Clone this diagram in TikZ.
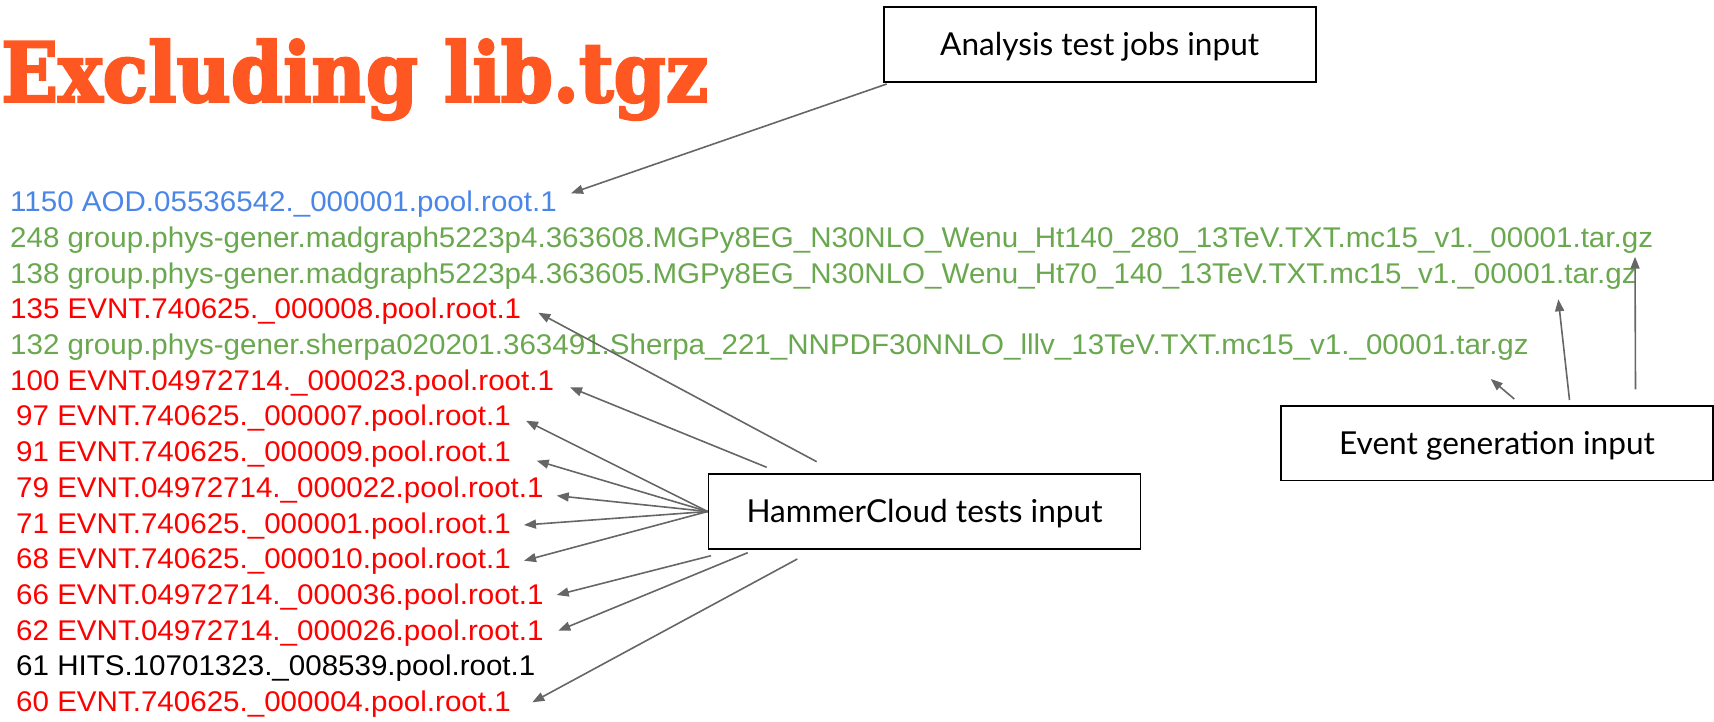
\documentclass[tikz,border=0pt]{standalone}
\usepackage{graphicx}
\usepackage{fontspec}
\setmainfont{Liberation Sans}
\newfontfamily\boxfont{Lato}
\newfontfamily\titlefont{DejaVu Serif}[BoldFeatures={FakeBold=3}]
\usetikzlibrary{arrows.meta}

\definecolor{titleorange}{RGB}{255,87,34}
\definecolor{aodblue}{RGB}{74,134,232}
\definecolor{gengreen}{RGB}{106,168,79}
\definecolor{evntred}{RGB}{255,0,0}
\definecolor{linkgray}{RGB}{102,102,102}

% list entries are set slightly wide
\newcommand{\entry}[1]{\scalebox{1.037}[1]{#1}}

\begin{document}
\begin{tikzpicture}[x=1pt,y=-1pt,
  listline/.style={anchor=base west,inner sep=0pt,font=\fontsize{28.5}{30}\selectfont},
  labelbox/.style={draw=black,line width=1.6pt,fill=white,minimum width=432pt,
    minimum height=74.5pt,inner sep=0pt,font=\boxfont\fontsize{31.6}{33}\selectfont,
    text height=22pt,text depth=0pt},
  pointer/.style={draw=linkgray,line width=1.6pt,-{Triangle[length=12pt,width=9pt]}}]

\useasboundingbox (0,0) rectangle (1714,721);

% heading
\node[anchor=base west,inner sep=0pt,text=titleorange] (title) at (1,101.7)
  {\resizebox{707pt}{62.5pt}{\titlefont\bfseries Excluding lib.tgz}};

% file list, one line per input file
\node[listline,text=aodblue] (l1) at (10,211.7) {\entry{1150 AOD.05536542.\_000001.pool.root.1}};
\node[listline,text=gengreen] (l2) at (10,247.4) {\entry{248 group.phys-gener.madgraph5223p4.363608.MGPy8EG\_N30NLO\_Wenu\_Ht140\_280\_13TeV.TXT.mc15\_v1.\_00001.tar.gz}};
\node[listline,text=gengreen] (l3) at (10,283.1) {\entry{138 group.phys-gener.madgraph5223p4.363605.MGPy8EG\_N30NLO\_Wenu\_Ht70\_140\_13TeV.TXT.mc15\_v1.\_00001.tar.gz}};
\node[listline,text=evntred] (l4) at (10,318.8) {\entry{135 EVNT.740625.\_000008.pool.root.1}};
\node[listline,text=gengreen] (l5) at (10,354.5) {\entry{132 group.phys-gener.sherpa020201.363491.Sherpa\_221\_NNPDF30NNLO\_lllv\_13TeV.TXT.mc15\_v1.\_00001.tar.gz}};
\node[listline,text=evntred] (l6) at (10,390.2) {\entry{100 EVNT.04972714.\_000023.pool.root.1}};
\node[listline,text=evntred] (l7) at (16,425.9) {\entry{97 EVNT.740625.\_000007.pool.root.1}};
\node[listline,text=evntred] (l8) at (16,461.6) {\entry{91 EVNT.740625.\_000009.pool.root.1}};
\node[listline,text=evntred] (l9) at (16,497.3) {\entry{79 EVNT.04972714.\_000022.pool.root.1}};
\node[listline,text=evntred] (l10) at (16,533.0) {\entry{71 EVNT.740625.\_000001.pool.root.1}};
\node[listline,text=evntred] (l11) at (16,568.7) {\entry{68 EVNT.740625.\_000010.pool.root.1}};
\node[listline,text=evntred] (l12) at (16,604.4) {\entry{66 EVNT.04972714.\_000036.pool.root.1}};
\node[listline,text=evntred] (l13) at (16,640.1) {\entry{62 EVNT.04972714.\_000026.pool.root.1}};
\node[listline,text=black] (l14) at (16,675.8) {\entry{61 HITS.10701323.\_008539.pool.root.1}};
\node[listline,text=evntred] (l15) at (16,711.5) {\entry{60 EVNT.740625.\_000004.pool.root.1}};

% category boxes
\node[labelbox] (ana) at (1099.7,44.5) {Analysis test jobs input};
\node[labelbox] (evg) at (1497,443.4) {Event generation input};
\node[labelbox] (hc) at (924.5,511.5) {HammerCloud tests input};

% arrow ends
\coordinate (anaTail) at (886.7,84);
\coordinate (anaTip) at (571,193.3);

\coordinate (hcTailA) at (816.7,461.7);
\coordinate (hcTailB) at (766.7,467.3);
\coordinate (hcTailC) at (711,555.7);
\coordinate (hcTailD) at (747.7,552.7);
\coordinate (hcTailE) at (797.3,559);
\coordinate (tip4) at (538.3,312.7);
\coordinate (tip6) at (570,387.3);
\coordinate (tip7) at (526,420.7);
\coordinate (tip8) at (536.7,460.7);
\coordinate (tip9) at (556.7,495.7);
\coordinate (tip10) at (524,525);
\coordinate (tip11) at (524,560.7);
\coordinate (tip12) at (556.7,595);
\coordinate (tip13) at (558.3,630.7);
\coordinate (tip15) at (532.3,702.3);

\coordinate (evTailA) at (1514.3,399);
\coordinate (evTailB) at (1569.5,400);
\coordinate (evTailC) at (1635.5,389.3);
\coordinate (evTip5) at (1490.7,379);
\coordinate (evTip3) at (1558.3,299.3);
\coordinate (evTip2) at (1635,256.7);

% connectors
\draw[pointer] (anaTail) -- (anaTip);

\draw[pointer] (hcTailA) -- (tip4);
\draw[pointer] (hcTailB) -- (tip6);
\draw[pointer] (hc.west) -- (tip7);
\draw[pointer] (hc.west) -- (tip8);
\draw[pointer] (hc.west) -- (tip9);
\draw[pointer] (hc.west) -- (tip10);
\draw[pointer] (hc.west) -- (tip11);
\draw[pointer] (hcTailC) -- (tip12);
\draw[pointer] (hcTailD) -- (tip13);
\draw[pointer] (hcTailE) -- (tip15);

\draw[pointer] (evTailA) -- (evTip5);
\draw[pointer] (evTailB) -- (evTip3);
\draw[pointer] (evTailC) -- (evTip2);

\end{tikzpicture}
\end{document}
